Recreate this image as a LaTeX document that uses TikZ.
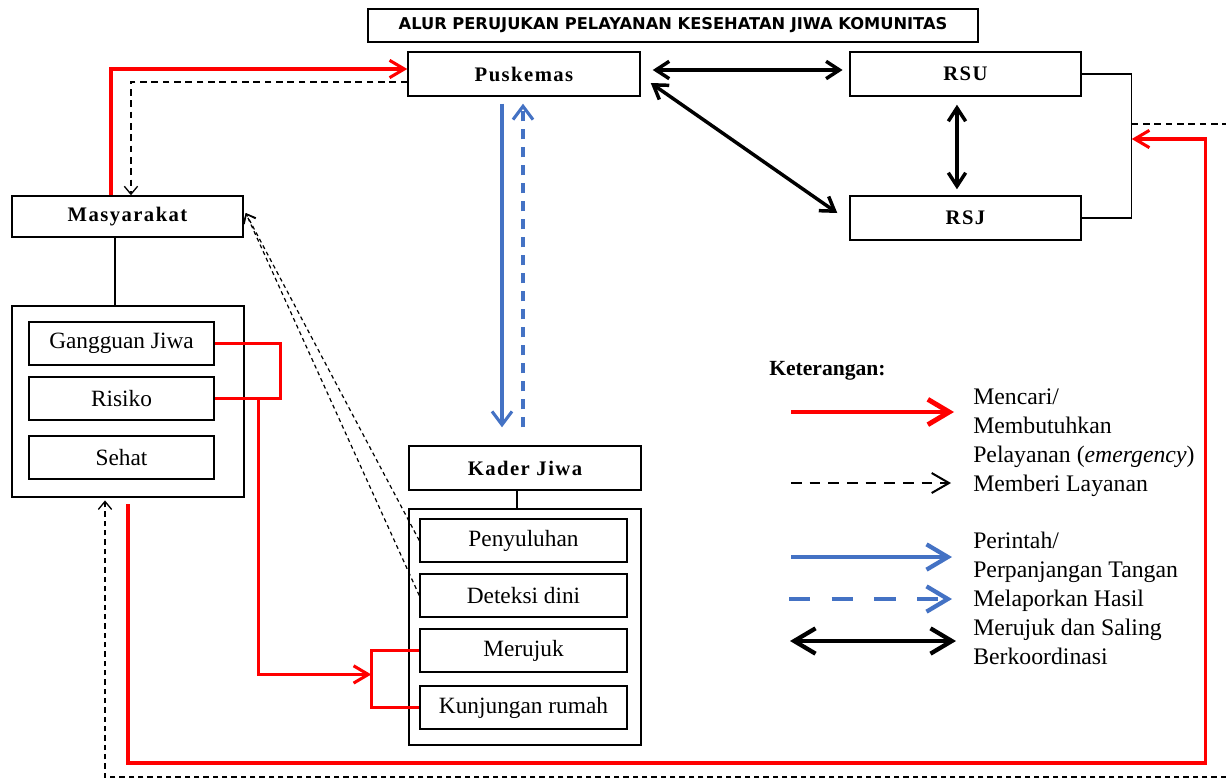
\documentclass[tikz,border=0pt]{standalone}
\usepackage{fontspec}
\setmainfont{Liberation Serif}
\newfontfamily\titlefont{DejaVu Sans}
\newfontfamily\headfam{Liberation Serif}[LetterSpace=7]
\usetikzlibrary{arrows.meta,calc}
\definecolor{bluec}{RGB}{68,114,196}
\begin{document}
\begin{tikzpicture}[x=0.75pt,y=-0.75pt,
  frame/.style={draw, line width=1.1pt, inner sep=0pt},
  headbox/.style={frame, font=\headfam\bfseries\fontsize{15.5}{17}\selectfont},
  subbox/.style={frame, font=\fontsize{17.5}{20}\selectfont},
  legtext/.style={anchor=base west, inner sep=0pt, font=\fontsize{17.8}{20}\selectfont},
  redln/.style={draw=red, line width=2.3pt},
  redarr/.style={redln, -{Straight Barb[length=11pt,width=13pt,line width=2.3pt]}},
  blkarr/.style={draw=black, line width=2.6pt, {Straight Barb[length=10pt,width=13pt,line width=2.6pt]}-{Straight Barb[length=10pt,width=13pt,line width=2.6pt]}},
  dashln/.style={draw=black, line width=1pt, dash pattern=on 5pt off 3.5pt},
  dasharr/.style={dashln, -{Straight Barb[length=6pt,width=10pt,line width=1pt]}},
  bluearr/.style={draw=bluec, line width=2.3pt, -{Straight Barb[length=10pt,width=15pt,line width=2.3pt]}},
  bluedash/.style={bluearr, dash pattern=on 7.5pt off 6pt}
]
\useasboundingbox (0,0) rectangle (1226,782);

% title
\node[frame, minimum width=457.5pt, minimum height=24.75pt,
  font=\titlefont\bfseries\fontsize{12.2}{14}\selectfont] (title) at (673,25.5)
  {ALUR PERUJUKAN PELAYANAN KESEHATAN JIWA KOMUNITAS};

% main boxes
\node[headbox, minimum width=174pt, minimum height=33pt] (pusk) at (524,74) {Puskemas};
\node[headbox, minimum width=173.25pt, minimum height=33pt] (rsu) at (965.5,74) {RSU};
\node[headbox, minimum width=173.25pt, minimum height=33pt] (rsj) at (965.5,218) {RSJ};
\node[headbox, minimum width=173.25pt, minimum height=30.75pt] (mas) at (127.5,216.5) {Masyarakat};
\node[headbox, minimum width=174pt, minimum height=33pt] (kader) at (525,468) {Kader Jiwa};

% left group
\node[frame, minimum width=174pt, minimum height=143.25pt] (lbox) at (128,401.5) {};
\node[subbox, minimum width=138.75pt, minimum height=32.25pt] (gang) at (121.5,343.5) {Gangguan Jiwa};
\node[subbox, minimum width=138.75pt, minimum height=32.25pt] (ris) at (121.5,398.5) {Risiko};
\node[subbox, minimum width=138.75pt, minimum height=32.25pt] (seh) at (121.5,457.5) {Sehat};

% kader group
\node[frame, minimum width=174pt, minimum height=177pt] (kbox) at (525,627) {};
\node[subbox, minimum width=155.25pt, minimum height=32.25pt] (peny) at (523.5,540.5) {Penyuluhan};
\node[subbox, minimum width=155.25pt, minimum height=32.25pt] (det) at (523.5,595.5) {Deteksi dini};
\node[subbox, minimum width=155.25pt, minimum height=32.25pt] (meru) at (523.5,650.5) {Merujuk};
\node[subbox, minimum width=155.25pt, minimum height=32.25pt] (kunj) at (523.5,707.5) {Kunjungan rumah};

% plain connectors
\draw[line width=1.1pt] ([xshift=-9.4pt]mas.south) -- ([xshift=-9.4pt]mas.south |- lbox.north);
\draw[line width=1.1pt] ([xshift=-6pt]kader.south) -- ([xshift=-6pt]kader.south |- kbox.north);
\draw[line width=1.1pt] (rsu.east) -- ++(50,0) |- (rsj.east);
\coordinate (rdash) at ($(rsu.east)+(50,50)$);
\coordinate (rin) at ($(rsu.east)+(50,65)$);
\coordinate (eR) at (1226,124);
\coordinate (eB) at (1226,777);

% red connectors
\draw[redarr] ([xshift=-12.4pt]mas.north) |- ([yshift=3.75pt]pusk.west);
\draw[redln] (gang.east) -- ++(66,0) |- (ris.east);
\draw[redln] (meru.west) -- ++(-48,0) |- (kunj.west);
\coordinate (bk) at ($(meru.west)!0.42!(kunj.west)+(-48,0)$);
\draw[redarr] ([xshift=33pt]ris.east) |- (bk);
\draw[redarr] ([yshift=-5pt]lbox.south) |- ($(rin)+(74,624)$) |- (rin);

% black dashed connectors
\draw[dasharr] ([yshift=-6pt]pusk.west) -| ([xshift=2.6pt]mas.north);
\draw[dashln] (rdash) -- (eR);
\draw[dasharr, dash pattern=on 4pt off 3pt] (eB) -| ([xshift=-17.25pt,yshift=-2pt]lbox.south);
\draw[dasharr, line width=0.9pt, dash pattern=on 3pt off 2.5pt] (peny.west) -- ([shift={(1.5pt,2.6pt)}]mas.east);
\draw[dasharr, line width=0.9pt, dash pattern=on 3pt off 2.5pt] (det.west) -- ([shift={(1.5pt,2.6pt)}]mas.east);

% blue connectors
\draw[bluearr, shorten <=5.25pt, shorten >=13.5pt] ([xshift=-16.5pt]pusk.south) -- ([xshift=-16.5pt]pusk.south |- kader.north);
\draw[bluedash, shorten <=13.5pt, shorten >=5.25pt] ([xshift=-0.75pt]pusk.south |- kader.north) -- ([xshift=-0.75pt]pusk.south);

% black double arrows
\draw[blkarr, shorten <=9pt, shorten >=5pt] ([yshift=3pt]pusk.east) -- ([yshift=3pt]rsu.west);
\draw[blkarr] ([shift={(7.5pt,-6.75pt)}]pusk.east) -- ([shift={(-9pt,3.75pt)}]rsj.west);
\draw[blkarr, shorten <=6pt, shorten >=4.5pt] ([xshift=-6.4pt]rsu.south) -- ([xshift=-6.4pt]rsj.north);

% legend
\node[anchor=base west, inner sep=0pt, font=\bfseries\fontsize{16.2}{18}\selectfont] (ket) at (769,375) {Keterangan:};
\node[legtext] (l1) at (973,404) {Mencari/};
\node[legtext] (l2) at (973,433) {Membutuhkan};
\node[legtext] (l3) at (973,462) {Pelayanan (\textit{emergency})};
\node[legtext] (l4) at (973,491) {Memberi Layanan};
\node[legtext] (l5) at (973,548) {Perintah/};
\node[legtext] (l6) at (973,577) {Perpanjangan Tangan};
\node[legtext] (l7) at (973,606) {Melaporkan Hasil};
\node[legtext] (l8) at (973,635) {Merujuk dan Saling};
\node[legtext] (l9) at (973,664) {Berkoordinasi};

\coordinate (a1) at (791,412); \coordinate (b1) at (954,412);
\coordinate (a2) at (791,483); \coordinate (b2) at (951,483);
\coordinate (a3) at (791,557); \coordinate (b3) at (952,557);
\coordinate (a4) at (789,599); \coordinate (b4) at (952,599);
\coordinate (a5) at (790,641); \coordinate (b5) at (956,641);
\draw[draw=red, line width=3.7pt, -{Straight Barb[length=16pt,width=19pt,line width=3.7pt]}] (a1) -- (b1);
\draw[draw=black, line width=1.5pt, dash pattern=on 8pt off 6pt, -{Straight Barb[length=13pt,width=15pt,line width=1.5pt]}] (a2) -- (b2);
\draw[draw=bluec, line width=3.2pt, -{Straight Barb[length=16pt,width=19pt,line width=3.2pt]}] (a3) -- (b3);
\draw[draw=bluec, line width=3.2pt, dash pattern=on 16pt off 16pt, -{Straight Barb[length=16pt,width=19pt,line width=3.2pt]}] (a4) -- (b4);
\draw[draw=black, line width=3.2pt, {Straight Barb[length=16pt,width=19pt,line width=3.2pt]}-{Straight Barb[length=16pt,width=19pt,line width=3.2pt]}] (a5) -- (b5);
\end{tikzpicture}
\end{document}
